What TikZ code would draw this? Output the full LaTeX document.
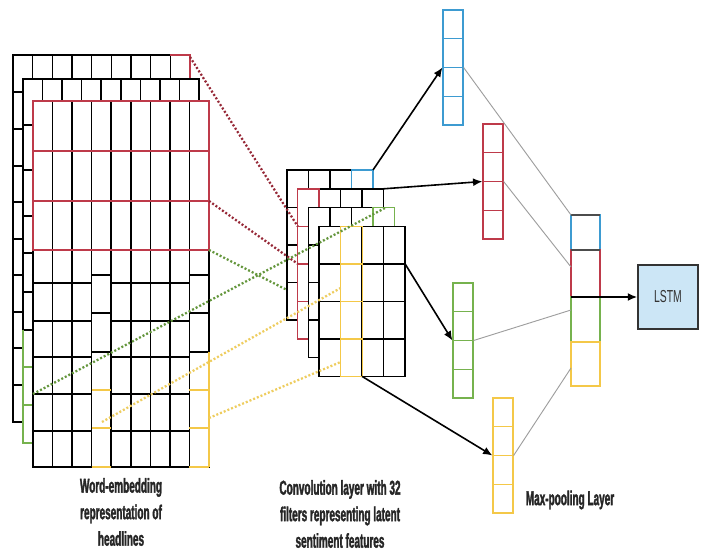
\documentclass[tikz,border=0pt]{standalone}
\usepackage{fontspec}
\newfontfamily\labelfont[FakeStretch=0.6]{Liberation Sans}
\newfontfamily\captionfont[FakeStretch=0.5, FakeBold=1.6]{Liberation Sans Bold}
\usetikzlibrary{arrows.meta,calc}

\definecolor{filtblue}{RGB}{61,155,209}
\definecolor{filtred}{RGB}{190,58,74}
\definecolor{filtgreen}{RGB}{118,178,78}
\definecolor{filtyellow}{RGB}{244,200,72}
\definecolor{dotred}{RGB}{150,40,55}
\definecolor{dotgreen}{RGB}{100,150,60}
\definecolor{dotyellow}{RGB}{238,205,95}
\definecolor{lstmfill}{RGB}{204,230,246}

\tikzset{
  cell/.style={black, line width=1.1pt},
  vecbox/.style={draw, line width=0.9pt, minimum width=15pt, minimum height=86.25pt, inner sep=0pt},
  dotlink/.style={line width=1.7pt, dash pattern=on 1.5pt off 1.5pt},
  graylink/.style={black!38, line width=0.7pt},
  maparrow/.style={-{Latex[length=7pt,width=6pt]}, line width=1.2pt},
  caption/.style={font=\captionfont\fontsize{15}{19.9}\selectfont, align=center, text=black!85},
  lstmbox/.style={draw=black!80, fill=lstmfill, line width=1.3pt, minimum width=45pt, minimum height=48pt,
    font=\labelfont\fontsize{13}{14}\selectfont, text=black!80}
}

% one 4x4 feature map of the convolution layer
\newcommand{\featuremap}[2]{%
  \filldraw[cell, fill=white] (#1,#2) rectangle ++(86,150);
  \foreach \k in {1,2,3} {
    \draw[cell] ({#1+\k*21.5},#2) -- ++(0,150);
    \draw[cell] (#1,{#2+\k*37.5}) -- ++(86,0);
  }%
}

\begin{document}
\begin{tikzpicture}[x=0.75pt,y=0.75pt,yscale=-1,xscale=1]
    \useasboundingbox (0,0) rectangle (705,556);

    %Grid: back word-embedding sheet
    \filldraw[cell, fill=white] (13,55) rectangle (190,422);
    \foreach \x in {32.67,52.33,72,91.67,111.33,131,150.67,170.33} \draw[cell] (\x,55) -- (\x,422);
    \foreach \y in {92,129,166,202,239,275,312,348,385} \draw[cell] (13,\y) -- (190,\y);
    \draw[cell, filtred] (170.33,55) -- (190,55) -- (190,79);

    %Grid: middle word-embedding sheet
    \filldraw[cell, fill=white] (23,79) rectangle (199,443);
    \foreach \x in {42.56,62.11,81.67,101.22,120.78,140.33,159.89,179.44} \draw[cell] (\x,79) -- (\x,443);
    \foreach \y in {125,170,216,253,292,330,367,405} \draw[cell] (23,\y) -- (199,\y);
    \draw[cell, filtgreen] (23,330) -- (23,443) -- (33,443);
    \draw[cell, filtgreen] (23,367) -- (33,367) (23,405) -- (33,405);

    %Grid: front word-embedding sheet
    \filldraw[cell, fill=white] (33,101) rectangle (209,467);
    \foreach \x in {52.56,72.11,91.67,111.22,130.78,150.33,169.89,189.44} \draw[cell] (\x,101) -- (\x,467);
    \foreach \y in {283,321,357,394,431} {
        \draw[cell] (33,\y) -- (91.67,\y);
        \draw[cell] (111.22,\y) -- (189.44,\y);
    }
    \foreach \y in {275,313,352} {
        \draw[cell] (91.67,\y) -- (111.22,\y);
        \draw[cell] (189.44,\y) -- (209,\y);
    }
    % red filter window
    \draw[cell, filtred, line width=1.3pt] (33,101) rectangle (209,250);
    \draw[cell, filtred, line width=1.3pt] (33,151) -- (209,151) (33,201) -- (209,201);
    % yellow filter window
    \foreach \y in {390,428,467} {
        \draw[cell, filtyellow, line width=1.4pt] (91.67,\y) -- (111.22,\y);
        \draw[cell, filtyellow, line width=1.4pt] (189.44,\y) -- (209,\y);
    }
    \draw[cell, filtyellow] (209,352) -- (209,467);

    %Convolution layer: 4 feature maps
    \featuremap{287}{170}
    \draw[cell, filtblue] (351.5,170) rectangle (373,207.5);
    \featuremap{297.7}{188.8}
    \draw[cell, filtred] (297.7,188.8) rectangle (319.2,338.8);
    \draw[cell, filtred] (297.7,226.3) -- (319.2,226.3) (297.7,263.8) -- (319.2,263.8) (297.7,301.3) -- (319.2,301.3);
    \featuremap{308.4}{207.6}
    \draw[cell, filtgreen] (372.9,207.6) rectangle (394.4,245.1);
    \featuremap{319.1}{226.4}
    \draw[cell, filtyellow, line width=0.9pt] (340.6,226.4) rectangle (362.1,376.4);
    \draw[cell, filtyellow, line width=0.9pt] (340.6,263.9) -- (362.1,263.9) (340.6,301.4) -- (362.1,301.4) (340.6,338.9) -- (362.1,338.9);

    % anchor points
    \coordinate (emb-r1) at (190,57);
    \coordinate (emb-r2) at (209,201);
    \coordinate (emb-g1) at (209,250);
    \coordinate (emb-g2) at (33,394);
    \coordinate (emb-y1) at (102,422);
    \coordinate (emb-y2) at (209,418);
    \coordinate (conv-r1) at (297.7,226.3);
    \coordinate (conv-r2) at (297.7,263.8);
    \coordinate (conv-g1) at (287,290);
    \coordinate (conv-g2) at (385,208);
    \coordinate (conv-y1) at (340.6,288);
    \coordinate (conv-y2) at (340.6,362);
    \coordinate (fm1) at (373,170);
    \coordinate (fm2) at (383.7,188.8);
    \coordinate (fm4r) at (405.1,263.9);
    \coordinate (fm4b) at (362.1,376.4);

    %Dotted Lines: filter windows
    \draw[dotlink, dotred] (emb-r1) -- (conv-r1);
    \draw[dotlink, dotred] (emb-r2) -- (conv-r2);
    \draw[dotlink, dotgreen] (emb-g1) -- (conv-g1);
    \draw[dotlink, dotgreen] (emb-g2) -- (conv-g2);
    \draw[dotlink, dotyellow] (emb-y1) -- (conv-y1);
    \draw[dotlink, dotyellow] (emb-y2) -- (conv-y2);

    %Pooling vectors
    \node[vecbox, draw=filtblue] (vblue) at (453,67.5) {};
    \node[vecbox, draw=filtred] (vred) at (493,181.5) {};
    \node[vecbox, draw=filtgreen] (vgreen) at (463,340.5) {};
    \node[vecbox, draw=filtyellow] (vyellow) at (503,455.5) {};
    \foreach \v/\c in {vblue/filtblue, vred/filtred, vgreen/filtgreen, vyellow/filtyellow}
        \foreach \f in {0.25,0.5,0.75}
            \draw[\c, line width=0.9pt] ($(\v.north west)!\f!(\v.south west)$) -- ($(\v.north east)!\f!(\v.south east)$);

    %Pooled vector
    \draw[filtblue, line width=0.9pt] (571,215) rectangle (600,250);
    \draw[filtred, line width=0.9pt] (571,250) rectangle (600,297);
    \draw[filtgreen, line width=0.9pt] (571,297) rectangle (600,342);
    \draw[filtyellow, line width=0.9pt] (571,342) rectangle (600,386);
    \draw[black!70, line width=1.3pt] (571,215) -- (600,215) (571,250) -- (600,250);
    \coordinate (pool-b) at (571,215);
    \coordinate (pool-r) at (571,267);
    \coordinate (pool-g) at (571,310);
    \coordinate (pool-y) at (571,368);
    \coordinate (pool-out) at (571,297);

    %Straight Lines: pooling
    \draw[graylink] (vblue.east) -- (pool-b);
    \draw[graylink] (vred.east) -- (pool-r);
    \draw[graylink] (vgreen.east) -- (pool-g);
    \draw[graylink] (vyellow.east) -- (pool-y);

    %Arrows: feature maps to pooling
    \draw[maparrow] (fm1) -- (vblue.west);
    \draw[maparrow] (fm2) -- (vred.west);
    \draw[maparrow] (fm4r) -- (vgreen.west);
    \draw[maparrow] (fm4b) -- (vyellow.west);

    % LSTM
    \node[lstmbox] (lstm) at (668,297) {LSTM};
    \draw[maparrow] (pool-out) -- (lstm.west);

    % Text Node
    \node[caption] (embcap) at (121,512) {Word-embedding\\representation of\\headlines};
    % Text Node
    \node[caption] (convcap) at (340,514) {Convolution layer with 32\\filters representing latent\\sentiment features};
    % Text Node
    \node[caption] (poolcap) at (570,500) {Max-pooling Layer};
\end{tikzpicture}
\end{document}
